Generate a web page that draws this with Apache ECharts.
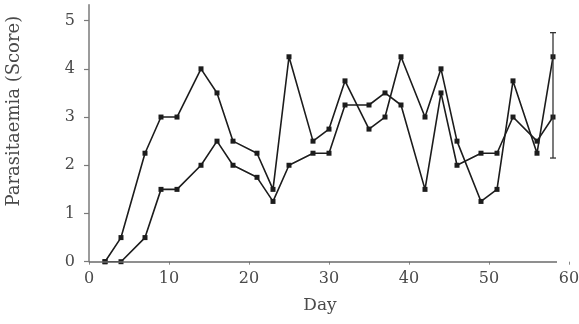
<!DOCTYPE html>
<html>
<head>
<meta charset="utf-8">
<script src="https://cdn.jsdelivr.net/npm/echarts@6/dist/echarts.min.js"></script>
<style>
html,body{margin:0;padding:0;background:#fff;}
#chart{width:579px;height:324px;}
</style>
</head>
<body>
<div id="chart"></div>
<script>
// Data
var days = [2,4,7,9,11,14,16,18,21,23,25,28,30,32,35,37,39,42,44,46,49,51,53,56,58];
var seriesA = [0,0.5,2.25,3,3,4,3.5,2.5,2.25,1.5,4.25,2.5,2.75,3.75,2.75,3,4.25,3,4,2.5,1.25,1.5,3.75,2.25,4.25];
var seriesB = [0,0,0.5,1.5,1.5,2,2.5,2,1.75,1.25,2,2.25,2.25,3.25,3.25,3.5,3.25,1.5,3.5,2,2.25,2.25,3,2.5,3];
var errorBar = [58, 2.15, 4.75]; // day, low, high
var xTicks = [0,10,20,30,40,50,60];
var yTicks = [0,1,2,3,4,5];
var xAxisEnd = 58.5;
var yAxisTop = 5.33;

var ink = '#1c1c1c';
var txt = '#4a4a4a';
var font = 'DejaVu Serif';

function pairs(xs, ys){ return xs.map(function(x,i){ return [x, ys[i]]; }); }

var chart = echarts.init(document.getElementById('chart'), null, {renderer:'canvas'});
chart.setOption({
  animation:false,
  backgroundColor:'#ffffff',
  grid:{left:89, right:10, top:4.7, bottom:62.3, containLabel:false, outerBoundsMode:'none'},
  xAxis:{
    type:'value', min:0, max:60, interval:10,
    name:'Day', nameLocation:'middle', nameGap:35,
    nameTextStyle:{fontFamily:font, fontSize:17, color:txt, padding:[0,18,0,0]},
    axisLine:{show:false},
    axisTick:{show:true, length:3, lineStyle:{color:'#888', width:1}},
    axisLabel:{fontFamily:font, fontSize:16, color:txt, margin:9},
    splitLine:{show:false}
  },
  yAxis:{
    type:'value', min:0, max:yAxisTop,
    name:'Parasitaemia (Score)', nameLocation:'middle', nameGap:66, nameRotate:90,
    nameTextStyle:{fontFamily:font, fontSize:18, color:txt, padding:[0,0,0,44]},
    axisLine:{show:true, lineStyle:{color:'#7a7a7a', width:1.5}},
    axisTick:{show:true, length:5, customValues:yTicks, lineStyle:{color:'#7a7a7a', width:1.2}},
    axisLabel:{fontFamily:font, fontSize:16, color:txt, margin:14, customValues:yTicks},
    splitLine:{show:false}
  },
  series:[
    {
      type:'line', data:pairs(days, seriesA),
      symbol:'rect', symbolSize:5, showSymbol:true,
      lineStyle:{color:ink, width:1.6}, itemStyle:{color:ink},
      z:3,
      markLine:{
        silent:true, symbol:['none','none'], label:{show:false},
        lineStyle:{color:'#6a6a6a', width:1.5, type:'solid'},
        data:[[{coord:[0,0]},{coord:[xAxisEnd,0]}]]
      }
    },
    {
      type:'line', data:pairs(days, seriesB),
      symbol:'rect', symbolSize:5, showSymbol:true,
      lineStyle:{color:ink, width:1.6}, itemStyle:{color:ink},
      z:3
    },
    {
      type:'custom', data:[errorBar], z:4,
      renderItem:function(params, api){
        var lo = api.coord([api.value(0), api.value(1)]);
        var hi = api.coord([api.value(0), api.value(2)]);
        var w = 3;
        var st = {stroke:'#333', lineWidth:1.3};
        return {type:'group', children:[
          {type:'line', shape:{x1:lo[0], y1:lo[1], x2:hi[0], y2:hi[1]}, style:st},
          {type:'line', shape:{x1:lo[0]-w, y1:lo[1], x2:lo[0]+w, y2:lo[1]}, style:st},
          {type:'line', shape:{x1:hi[0]-w, y1:hi[1], x2:hi[0]+w, y2:hi[1]}, style:st}
        ]};
      }
    }
  ]
});
</script>
</body>
</html>
